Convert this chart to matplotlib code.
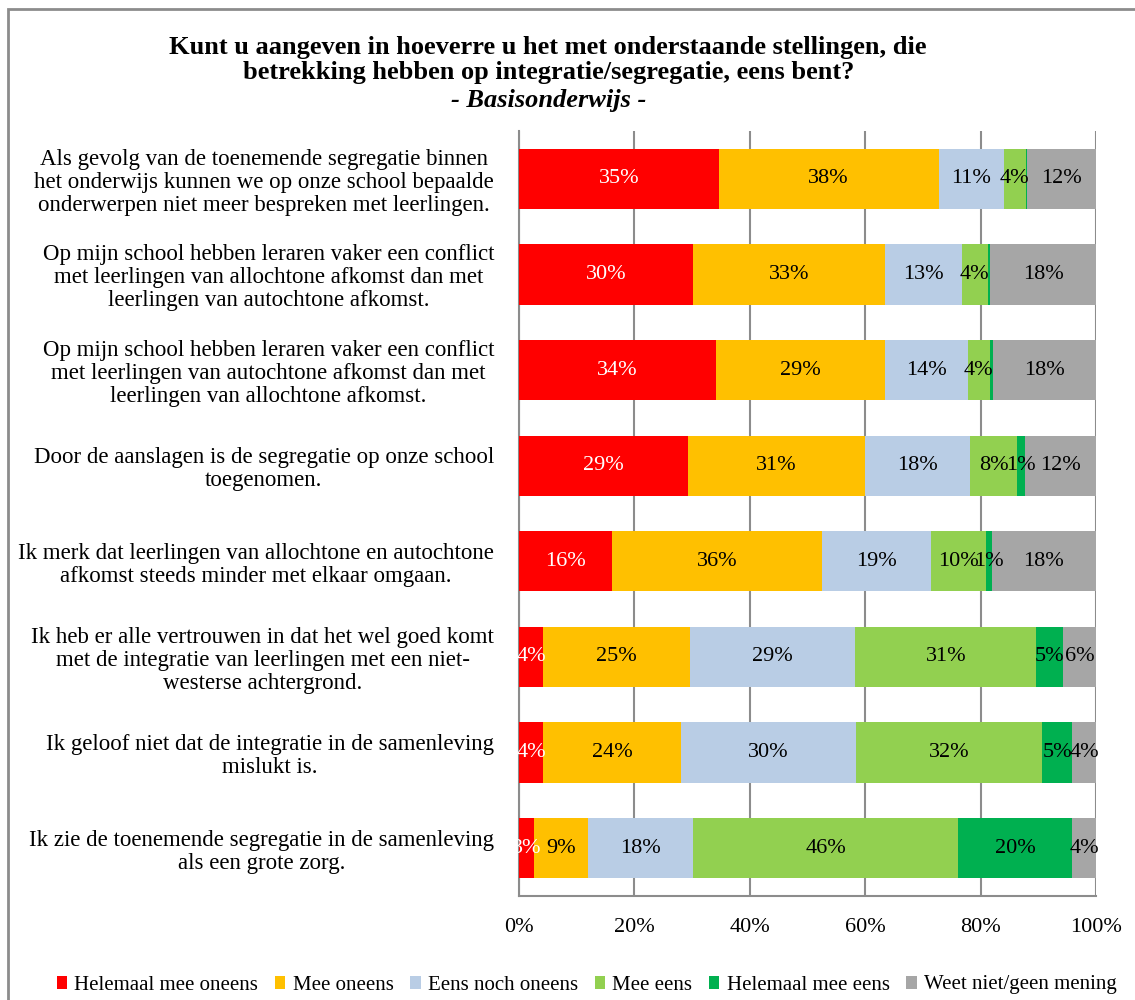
import numpy as np
import matplotlib
matplotlib.use("Agg")
import matplotlib.pyplot as plt
from matplotlib.patches import Rectangle

plt.rcParams['font.family'] = ['Liberation Serif', 'DejaVu Serif']

statements = [
    "Als gevolg van de toenemende segregatie binnen\nhet onderwijs kunnen we op onze school bepaalde\nonderwerpen niet meer bespreken met leerlingen.",
    "Op mijn school hebben leraren vaker een conflict\nmet leerlingen van allochtone afkomst dan met\nleerlingen van autochtone afkomst.",
    "Op mijn school hebben leraren vaker een conflict\nmet leerlingen van autochtone afkomst dan met\nleerlingen van allochtone afkomst.",
    "Door de aanslagen is de segregatie op onze school\ntoegenomen.",
    "Ik merk dat leerlingen van allochtone en autochtone\nafkomst steeds minder met elkaar omgaan.",
    "Ik heb er alle vertrouwen in dat het wel goed komt\nmet de integratie van leerlingen met een niet-\nwesterse achtergrond.",
    "Ik geloof niet dat de integratie in de samenleving\nmislukt is.",
    "Ik zie de toenemende segregatie in de samenleving\nals een grote zorg.",
]

categories = ["Helemaal mee oneens", "Mee oneens", "Eens noch oneens",
              "Mee eens", "Helemaal mee eens", "Weet niet/geen mening"]

helemaal_oneens = [34.6, 30.2, 34.1, 29.3, 16.1, 4.2, 4.2, 2.6]
mee_oneens      = [38.1, 33.3, 29.3, 30.7, 36.4, 25.4, 23.9, 9.4]
noch            = [11.3, 13.3, 14.4, 18.2, 18.9, 28.7, 30.3, 18.2]
mee_eens        = [3.8, 4.4, 3.8, 8.1, 9.6, 31.3, 32.3, 45.9]
helemaal_eens   = [0.3, 0.5, 0.5, 1.3, 0.9, 4.6, 5.1, 19.7]
weet_niet       = [11.9, 18.3, 17.9, 12.4, 18.1, 5.8, 4.2, 4.2]

series = [helemaal_oneens, mee_oneens, noch, mee_eens, helemaal_eens, weet_niet]
colors = ["#FF0000", "#FFC000", "#B9CDE5", "#92D050", "#00B050", "#A6A6A6"]
text_colors = ["white", "black", "black", "black", "black", "black"]

fig = plt.figure(figsize=(11.35, 10), dpi=100)
ax = fig.add_axes([0.4573, 0.104, 0.5084, 0.765])

y = np.arange(len(statements))
left = np.zeros(len(statements))
for vals, col, tc, name in zip(series, colors, text_colors, categories):
    vals = np.array(vals)
    ax.barh(y, vals, left=left, height=0.63, color=col, label=name, zorder=3)
    for yi, (l, v) in enumerate(zip(left, vals)):
        if v >= 0.75:
            ax.text(l + v / 2, yi, f"{v:.0f}%", ha='center', va='center',
                    fontsize=16, color=tc, zorder=4)
    left += vals

ax.set_xlim(0, 100)
ax.set_ylim(len(statements) - 0.5, -0.5)
ax.set_xticks(np.arange(0, 101, 20))
ax.set_xticklabels([f"{t}%" for t in range(0, 101, 20)], fontsize=16)
ax.set_yticks(y)
ax.set_yticklabels(statements, fontsize=16.5, multialignment='center', linespacing=1.12)
ax.tick_params(axis='y', length=0, pad=18)
ax.tick_params(axis='x', length=0, pad=16)
ax.grid(axis='x', color='#8C8C8C', linewidth=1.5, zorder=0)
for s in ['top', 'right']:
    ax.spines[s].set_visible(False)
for s in ['left', 'bottom']:
    ax.spines[s].set_color('#8C8C8C')
    ax.spines[s].set_linewidth(1.5)

fig.text(0.483, 0.940, "Kunt u aangeven in hoeverre u het met onderstaande stellingen, die\nbetrekking hebben op integratie/segregatie, eens bent?",
         ha='center', va='center', fontsize=19, fontweight='bold', linespacing=1.1)
fig.text(0.483, 0.900, "- Basisonderwijs -", ha='center', va='center',
         fontsize=19, fontweight='bold', style='italic')

fig.legend(loc='center', bbox_to_anchor=(0.517, 0.015), ncol=6, frameon=False,
           fontsize=15, handlelength=0.5, handleheight=0.6, handletextpad=0.35,
           columnspacing=0.8)

fig.patches.append(Rectangle((8 / 1135, -0.05), 1.2, 1.05 - 9 / 1000,
                             transform=fig.transFigure, fill=False,
                             edgecolor='#8C8C8C', linewidth=2))

fig.savefig("out.png", dpi=100)
